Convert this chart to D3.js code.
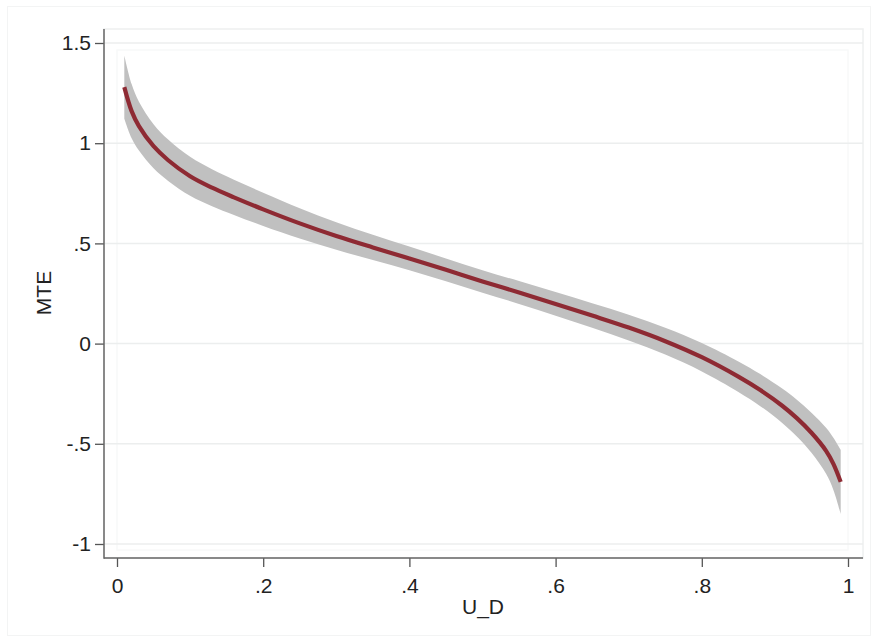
<!DOCTYPE html>
<html>
<head>
<meta charset="utf-8">
<script src="https://cdn.jsdelivr.net/npm/d3@7"></script>
<style>
  html, body { margin: 0; padding: 0; background: #ffffff; }
  svg { display: block; font-family: "Liberation Sans", Arial, sans-serif; }
</style>
</head>
<body>
<svg id="chart" width="872" height="639"></svg>
<script>
// ---- data ----
const uValues = [0.01, 0.02, 0.03, 0.05, 0.07, 0.10, 0.13, 0.16, 0.20, 0.25, 0.30, 0.35, 0.40, 0.45, 0.50,
                 0.55, 0.60, 0.65, 0.70, 0.75, 0.80, 0.85, 0.88, 0.91, 0.93, 0.95, 0.97, 0.98, 0.99];
const mteValues = [1.28, 1.16, 1.085, 0.985, 0.915, 0.835, 0.778, 0.73, 0.67, 0.60, 0.537, 0.48, 0.425, 0.368, 0.31,
                   0.255, 0.198, 0.14, 0.08, 0.012, -0.068, -0.165, -0.232, -0.31, -0.372, -0.445, -0.535, -0.60, -0.69];
const ciLower = [1.122, 1.025, 0.963, 0.875, 0.812, 0.738, 0.686, 0.642, 0.587, 0.524, 0.468, 0.417, 0.366, 0.311, 0.254,
                 0.198, 0.139, 0.079, 0.016, -0.055, -0.139, -0.241, -0.312, -0.396, -0.464, -0.545, -0.65, -0.73, -0.85];
const ciUpper = [1.438, 1.295, 1.207, 1.095, 1.018, 0.932, 0.87, 0.818, 0.753, 0.676, 0.606, 0.543, 0.484, 0.425, 0.366,
                 0.312, 0.257, 0.201, 0.144, 0.079, 0.003, -0.089, -0.152, -0.224, -0.28, -0.345, -0.42, -0.47, -0.53];
const xTicks = [0, 0.2, 0.4, 0.6, 0.8, 1];
const xTickLabels = ["0", ".2", ".4", ".6", ".8", "1"];
const yTicks = [-1, -0.5, 0, 0.5, 1, 1.5];
const yTickLabels = ["-1", "-.5", "0", ".5", "1", "1.5"];
const xTitle = "U_D";
const yTitle = "MTE";

// ---- layout ----
const svg = d3.select("#chart");
const plotLeft = 104, plotRight = 863, plotTop = 29, plotBottom = 558;
const x = d3.scaleLinear().domain([0, 1]).range([117, 848]);
const y = d3.scaleLinear().domain([-1, 1.5]).range([544, 43]);

const rows = uValues.map((u, i) => ({ u, m: mteValues[i], lo: ciLower[i], hi: ciUpper[i] }));

// faint outer frame
svg.append("rect").attr("x", 7.5).attr("y", 6.5).attr("width", 863).attr("height", 629)
  .attr("fill", "none").attr("stroke", "#f3f4f4").attr("stroke-width", 1);

// plot region outline
svg.append("rect").attr("x", plotLeft).attr("y", plotTop)
  .attr("width", plotRight - plotLeft).attr("height", plotBottom - plotTop)
  .attr("fill", "none").attr("stroke", "#eef0f0").attr("stroke-width", 1.5);

// inner faint outline
svg.append("rect").attr("x", x(0)).attr("y", 50)
  .attr("width", x(1) - x(0)).attr("height", 500)
  .attr("fill", "none").attr("stroke", "#f8f9f9").attr("stroke-width", 1.5);

// gridlines
svg.append("g").selectAll("line").data(yTicks).join("line")
  .attr("x1", plotLeft).attr("x2", plotRight)
  .attr("y1", d => y(d)).attr("y2", d => y(d))
  .attr("stroke", "#eceeee").attr("stroke-width", 1.5);

// confidence band
const curve = d3.curveCatmullRom.alpha(0.5);
const area = d3.area().curve(curve)
  .x(d => x(d.u)).y0(d => y(d.lo)).y1(d => y(d.hi));
svg.append("path").datum(rows).attr("d", area).attr("fill", "#c0c0c0");

// MTE line
const line = d3.line().curve(curve).x(d => x(d.u)).y(d => y(d.m));
svg.append("path").datum(rows).attr("d", line)
  .attr("fill", "none").attr("stroke", "#8e2a33").attr("stroke-width", 4.2);

// axes
const yAxis = d3.axisLeft(y).tickValues(yTicks)
  .tickFormat(d => yTickLabels[yTicks.indexOf(d)]).tickSize(9).tickPadding(4);
const gy = svg.append("g").attr("transform", `translate(${plotLeft},0)`).call(yAxis);
const xAxis = d3.axisBottom(x).tickValues(xTicks)
  .tickFormat(d => xTickLabels[xTicks.indexOf(d)]).tickSize(9).tickPadding(11);
const gx = svg.append("g").attr("transform", `translate(0,${plotBottom})`).call(xAxis);

[gx, gy].forEach(g => {
  g.select(".domain").remove();
  g.selectAll(".tick line").attr("stroke", "#555").attr("stroke-width", 1.3);
  g.selectAll(".tick text").attr("fill", "#222").style("font-size", "21px")
    .style("font-family", "'Liberation Sans', Arial, sans-serif");
});

// axis lines
svg.append("line").attr("x1", plotLeft).attr("x2", plotLeft).attr("y1", plotTop).attr("y2", plotBottom + 0.75)
  .attr("stroke", "#666").attr("stroke-width", 1.5);
svg.append("line").attr("x1", plotLeft).attr("x2", plotRight).attr("y1", plotBottom).attr("y2", plotBottom)
  .attr("stroke", "#666").attr("stroke-width", 1.5);

// titles
svg.append("text").attr("x", 483).attr("y", 614).attr("text-anchor", "middle")
  .attr("fill", "#222").style("font-size", "21px").text(xTitle);
svg.append("text").attr("transform", "translate(51,293) rotate(-90)").attr("text-anchor", "middle")
  .attr("fill", "#222").style("font-size", "21px").text(yTitle);
</script>
</body>
</html>
